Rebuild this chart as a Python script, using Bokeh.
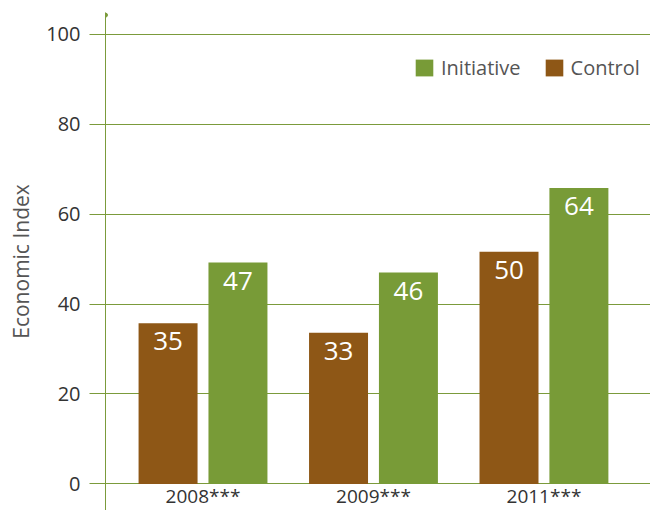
from bokeh.plotting import figure
from bokeh.models import ColumnDataSource, Range1d, FixedTicker, Legend, LegendItem
from bokeh.transform import dodge
from bokeh.core.properties import value
from bokeh.embed import file_html
from bokeh.resources import INLINE

# ---- data ----
years = ["2008***", "2009***", "2011***"]
initiative = [49.2, 47.0, 65.8]
control = [35.7, 33.6, 51.6]
initiative_labels = ["47", "46", "64"]
control_labels = ["35", "33", "50"]
y_ticks = [0, 20, 40, 60, 80, 100]

GREEN = "#789b37"
BROWN = "#8e5716"
GRID = "#7b9b3b"
FONT = "Open Sans"

idx = list(range(len(years)))
src = ColumnDataSource(dict(x=idx, initiative=initiative, control=control,
                            il=initiative_labels, cl=control_labels))

p = figure(width=650, height=510, output_backend="svg", toolbar_location=None,
           x_range=Range1d(-0.572, 2.625), y_range=Range1d(-5.889, 104.778),
           min_border_left=105, min_border_right=0, min_border_top=12, min_border_bottom=0)
p.outline_line_color = None
p.background_fill_color = "white"
p.border_fill_color = "white"
p.xgrid.grid_line_color = None
p.ygrid.grid_line_color = GRID
p.ygrid.grid_line_width = 1
p.ygrid.ticker = FixedTicker(ticks=y_ticks)

# y axis
p.yaxis.ticker = FixedTicker(ticks=y_ticks)
p.yaxis.axis_line_color = GRID
p.yaxis.major_tick_line_color = GRID
p.yaxis.major_tick_out = 16
p.yaxis.major_tick_in = 0
p.yaxis.minor_tick_line_color = None
p.yaxis.major_label_standoff = 9
p.yaxis.major_label_text_font = FONT
p.yaxis.major_label_text_font_size = "20px"
p.yaxis.major_label_text_color = "#333333"
p.yaxis.axis_label = "Economic Index"
p.yaxis.axis_label_text_font = FONT
p.yaxis.axis_label_text_font_size = "21px"
p.yaxis.axis_label_text_font_style = "normal"
p.yaxis.axis_label_text_color = "#555555"
p.yaxis.axis_label_standoff = 8

# x axis
p.xaxis.fixed_location = 0
p.xaxis.ticker = FixedTicker(ticks=idx)
p.xaxis.major_label_overrides = {i: y for i, y in zip(idx, years)}
p.xaxis.axis_line_color = None
p.xaxis.major_tick_line_color = None
p.xaxis.minor_tick_line_color = None
p.xaxis.major_label_standoff = -7
p.xaxis.major_label_text_font = FONT
p.xaxis.major_label_text_font_size = "19px"
p.xaxis.major_label_text_color = "#333333"

BW = 0.346
OFF = 0.205
r_ctrl = p.vbar(x=dodge("x", -OFF, range=p.x_range), top="control", width=BW,
                bottom=0, source=src, fill_color=BROWN, line_color=None)
r_init = p.vbar(x=dodge("x", OFF, range=p.x_range), top="initiative", width=BW,
                bottom=0, source=src, fill_color=GREEN, line_color=None)

p.text(x=dodge("x", -OFF, range=p.x_range), y="control", text="cl", source=src,
       text_align="center", text_baseline="top", text_color="white",
       text_font=value(FONT), text_font_size="26px", y_offset=9)
p.text(x=dodge("x", OFF, range=p.x_range), y="initiative", text="il", source=src,
       text_align="center", text_baseline="top", text_color="white",
       text_font=value(FONT), text_font_size="26px", y_offset=9)

# small dot on top of the y axis line
p.scatter(x=[p.x_range.start], y=[104.2], size=4, color=GRID)

legend = Legend(items=[LegendItem(label="Initiative", renderers=[r_init]),
                       LegendItem(label="Control", renderers=[r_ctrl])],
                orientation="horizontal", location=(308, 429),
                glyph_width=22, glyph_height=21, label_standoff=6, spacing=22,
                padding=0, margin=0, border_line_color=None,
                background_fill_alpha=0,
                label_text_font=FONT, label_text_font_size="20px",
                label_text_color="#555555")
p.add_layout(legend)

open("out.html", "w").write(file_html(p, INLINE))
